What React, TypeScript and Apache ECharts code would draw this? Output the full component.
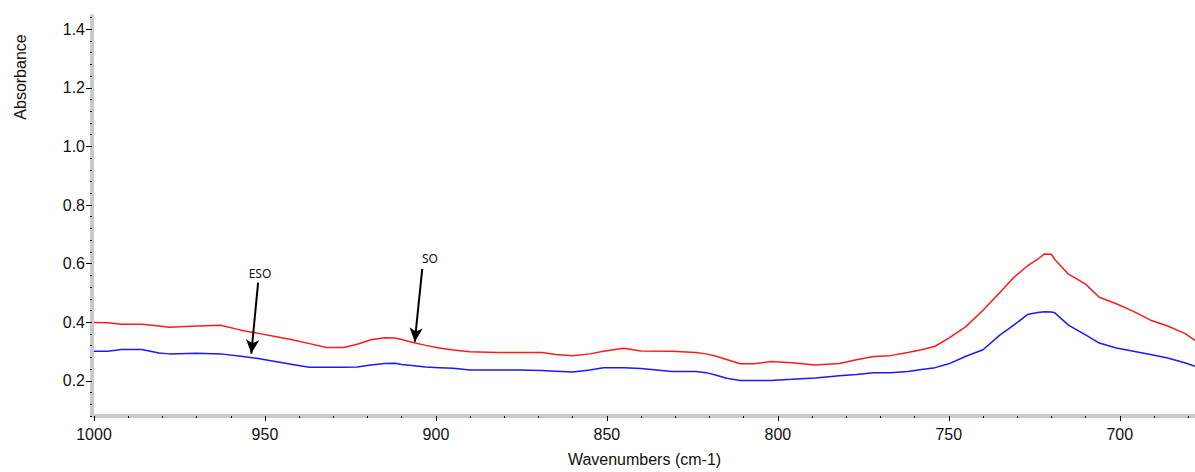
import React, { useEffect, useRef } from "react";
import * as echarts from "echarts";

const wavenumbers = [
  1000, 996, 992, 986, 981, 978, 970, 963, 957, 952, 947, 942, 937, 932, 927, 923, 919, 915, 912, 910, 907, 903, 899,
  895, 890, 882, 876, 869, 865, 860, 855, 851, 845, 840, 831, 824, 821, 818, 815, 811, 807, 802, 796, 789, 782, 777,
  772, 767, 762, 758, 754, 750, 745, 740, 735, 731, 727, 724, 722, 720, 719, 715, 710, 706, 701, 696, 691, 686, 681, 678,
];

const redValues = [
  0.399, 0.398, 0.393, 0.393, 0.387, 0.383, 0.387, 0.39, 0.373, 0.362, 0.351, 0.34, 0.327, 0.314, 0.314, 0.325, 0.34,
  0.347, 0.346, 0.341, 0.332, 0.321, 0.312, 0.305, 0.299, 0.297, 0.297, 0.297, 0.29, 0.286, 0.292, 0.301, 0.311, 0.302,
  0.301, 0.297, 0.292, 0.284, 0.273, 0.258, 0.258, 0.266, 0.262, 0.254, 0.259, 0.272, 0.283, 0.286, 0.297, 0.306, 0.318,
  0.346, 0.385, 0.441, 0.502, 0.553, 0.592, 0.615, 0.633, 0.632, 0.614, 0.564, 0.53, 0.485, 0.463, 0.437, 0.407, 0.387,
  0.362, 0.338,
];

const blueValues = [
  0.301, 0.301, 0.307, 0.307, 0.295, 0.292, 0.294, 0.292, 0.284, 0.276, 0.266, 0.256, 0.246, 0.246, 0.246, 0.247, 0.254,
  0.259, 0.26, 0.256, 0.252, 0.247, 0.245, 0.243, 0.237, 0.237, 0.237, 0.235, 0.233, 0.23, 0.237, 0.245, 0.245, 0.242,
  0.232, 0.232, 0.228, 0.219, 0.209, 0.201, 0.201, 0.201, 0.205, 0.21, 0.217, 0.222, 0.228, 0.228, 0.232, 0.239, 0.245,
  0.258, 0.284, 0.306, 0.357, 0.39, 0.426, 0.433, 0.436, 0.435, 0.432, 0.39, 0.357, 0.329, 0.312, 0.301, 0.29, 0.278,
  0.262, 0.25,
];

const yMajorTicks = [0.2, 0.4, 0.6, 0.8, 1.0, 1.2, 1.4];
const xMajorTicks = [1000, 950, 900, 850, 800, 750, 700];

const annotations = [
  { label: "ESO", from: [952, 0.535], to: [954, 0.293] },
  { label: "SO", from: [904, 0.582], to: [906.2, 0.333] },
];

const yMinorTicks: number[] = [];
for (let i = 2; i <= 36; i++) yMinorTicks.push(+(i * 0.04).toFixed(2));
const xMinorTicks: number[] = [];
for (let v = 680; v <= 1000; v += 10) xMinorTicks.push(v);

const FONT = "'Liberation Sans', Arial, Helvetica, sans-serif";

export default function App() {
  const ref = useRef<HTMLDivElement>(null);
  useEffect(() => {
    if (!ref.current) return;
    const chart = echarts.init(ref.current, undefined, { renderer: "svg" });
    const yMin = 0.08;
    const yMax = 1.445;
    const xMin = 678;
    const xMax = 1000;
    const baseX = {
      type: "value",
      min: xMin,
      max: xMax,
      inverse: true,
      position: "bottom",
      splitLine: { show: false },
    };
    const baseY = {
      type: "value",
      min: yMin,
      max: yMax,
      position: "left",
      offset: 2,
      splitLine: { show: false },
    };
    chart.setOption({
      animation: false,
      grid: { left: 94, right: 0, top: 16, bottom: 49.6, containLabel: false },
      xAxis: [
        {
          ...baseX,
          axisLine: { show: true, lineStyle: { color: "#c9c9c9", width: 4 } },
          axisTick: { show: true, customValues: xMinorTicks, length: 2, lineStyle: { color: "#000", width: 1 } },
          axisLabel: { show: false },
          name: "Wavenumbers (cm-1)",
          nameLocation: "middle",
          nameGap: 35,
          nameTextStyle: { fontFamily: FONT, fontSize: 16, color: "#111" },
        },
        {
          ...baseX,
          axisLine: { show: false },
          axisTick: { show: true, customValues: xMajorTicks, length: 5, lineStyle: { color: "#000", width: 1 } },
          axisLabel: {
            show: true,
            customValues: xMajorTicks,
            margin: 10,
            fontFamily: FONT,
            fontSize: 16,
            color: "#111",
            formatter: (v: number) => String(v),
          },
        },
      ],
      yAxis: [
        {
          ...baseY,
          axisLine: { show: true, lineStyle: { color: "#c9c9c9", width: 4 } },
          axisTick: { show: true, customValues: yMinorTicks, length: 2, lineStyle: { color: "#000", width: 1 } },
          axisLabel: { show: false },
        },
        {
          ...baseY,
          axisLine: { show: false },
          axisTick: { show: true, customValues: yMajorTicks, length: 6, lineStyle: { color: "#000", width: 1 } },
          axisLabel: {
            show: true,
            customValues: yMajorTicks,
            margin: 7,
            fontFamily: FONT,
            fontSize: 16,
            color: "#111",
            formatter: (v: number) => v.toFixed(1),
          },
        },
      ],
      series: [
        {
          type: "line",
          xAxisIndex: 0,
          yAxisIndex: 0,
          data: wavenumbers.map((w, i) => [w, redValues[i]]),
          showSymbol: false,
          symbol: "none",
          lineStyle: { color: "#ff1a1a", width: 1.5 },
          silent: true,
          markLine: {
            silent: true,
            symbol: ["none", "arrow"],
            symbolSize: [10, 14],
            label: { show: false },
            lineStyle: { color: "#000", width: 2, type: "solid" },
            data: annotations.map((a) => [{ coord: a.from }, { coord: a.to }]),
          },
        },
        {
          type: "line",
          xAxisIndex: 0,
          yAxisIndex: 0,
          data: wavenumbers.map((w, i) => [w, blueValues[i]]),
          showSymbol: false,
          symbol: "none",
          lineStyle: { color: "#1a1aff", width: 1.5 },
          silent: true,
        },
      ],
      graphic: [
        {
          type: "text",
          x: 20,
          y: 77,
          rotation: Math.PI / 2,
          style: {
            text: "Absorbance",
            fill: "#111",
            font: `16px ${FONT}`,
            align: "center",
            verticalAlign: "middle",
          },
        },
        {
          type: "text",
          x: 260,
          y: 273,
          style: { text: annotations[0].label, fill: "#111", font: "12px 'Noto Sans', sans-serif", align: "center", verticalAlign: "middle" },
        },
        {
          type: "text",
          x: 430,
          y: 258,
          style: { text: annotations[1].label, fill: "#111", font: "12px 'Noto Sans', sans-serif", align: "center", verticalAlign: "middle" },
        },
      ],
    });
    return () => chart.dispose();
  }, []);
  return <div ref={ref} style={{ position: "absolute", left: 0, top: 0, width: 1195, height: 472 }} />;
}
